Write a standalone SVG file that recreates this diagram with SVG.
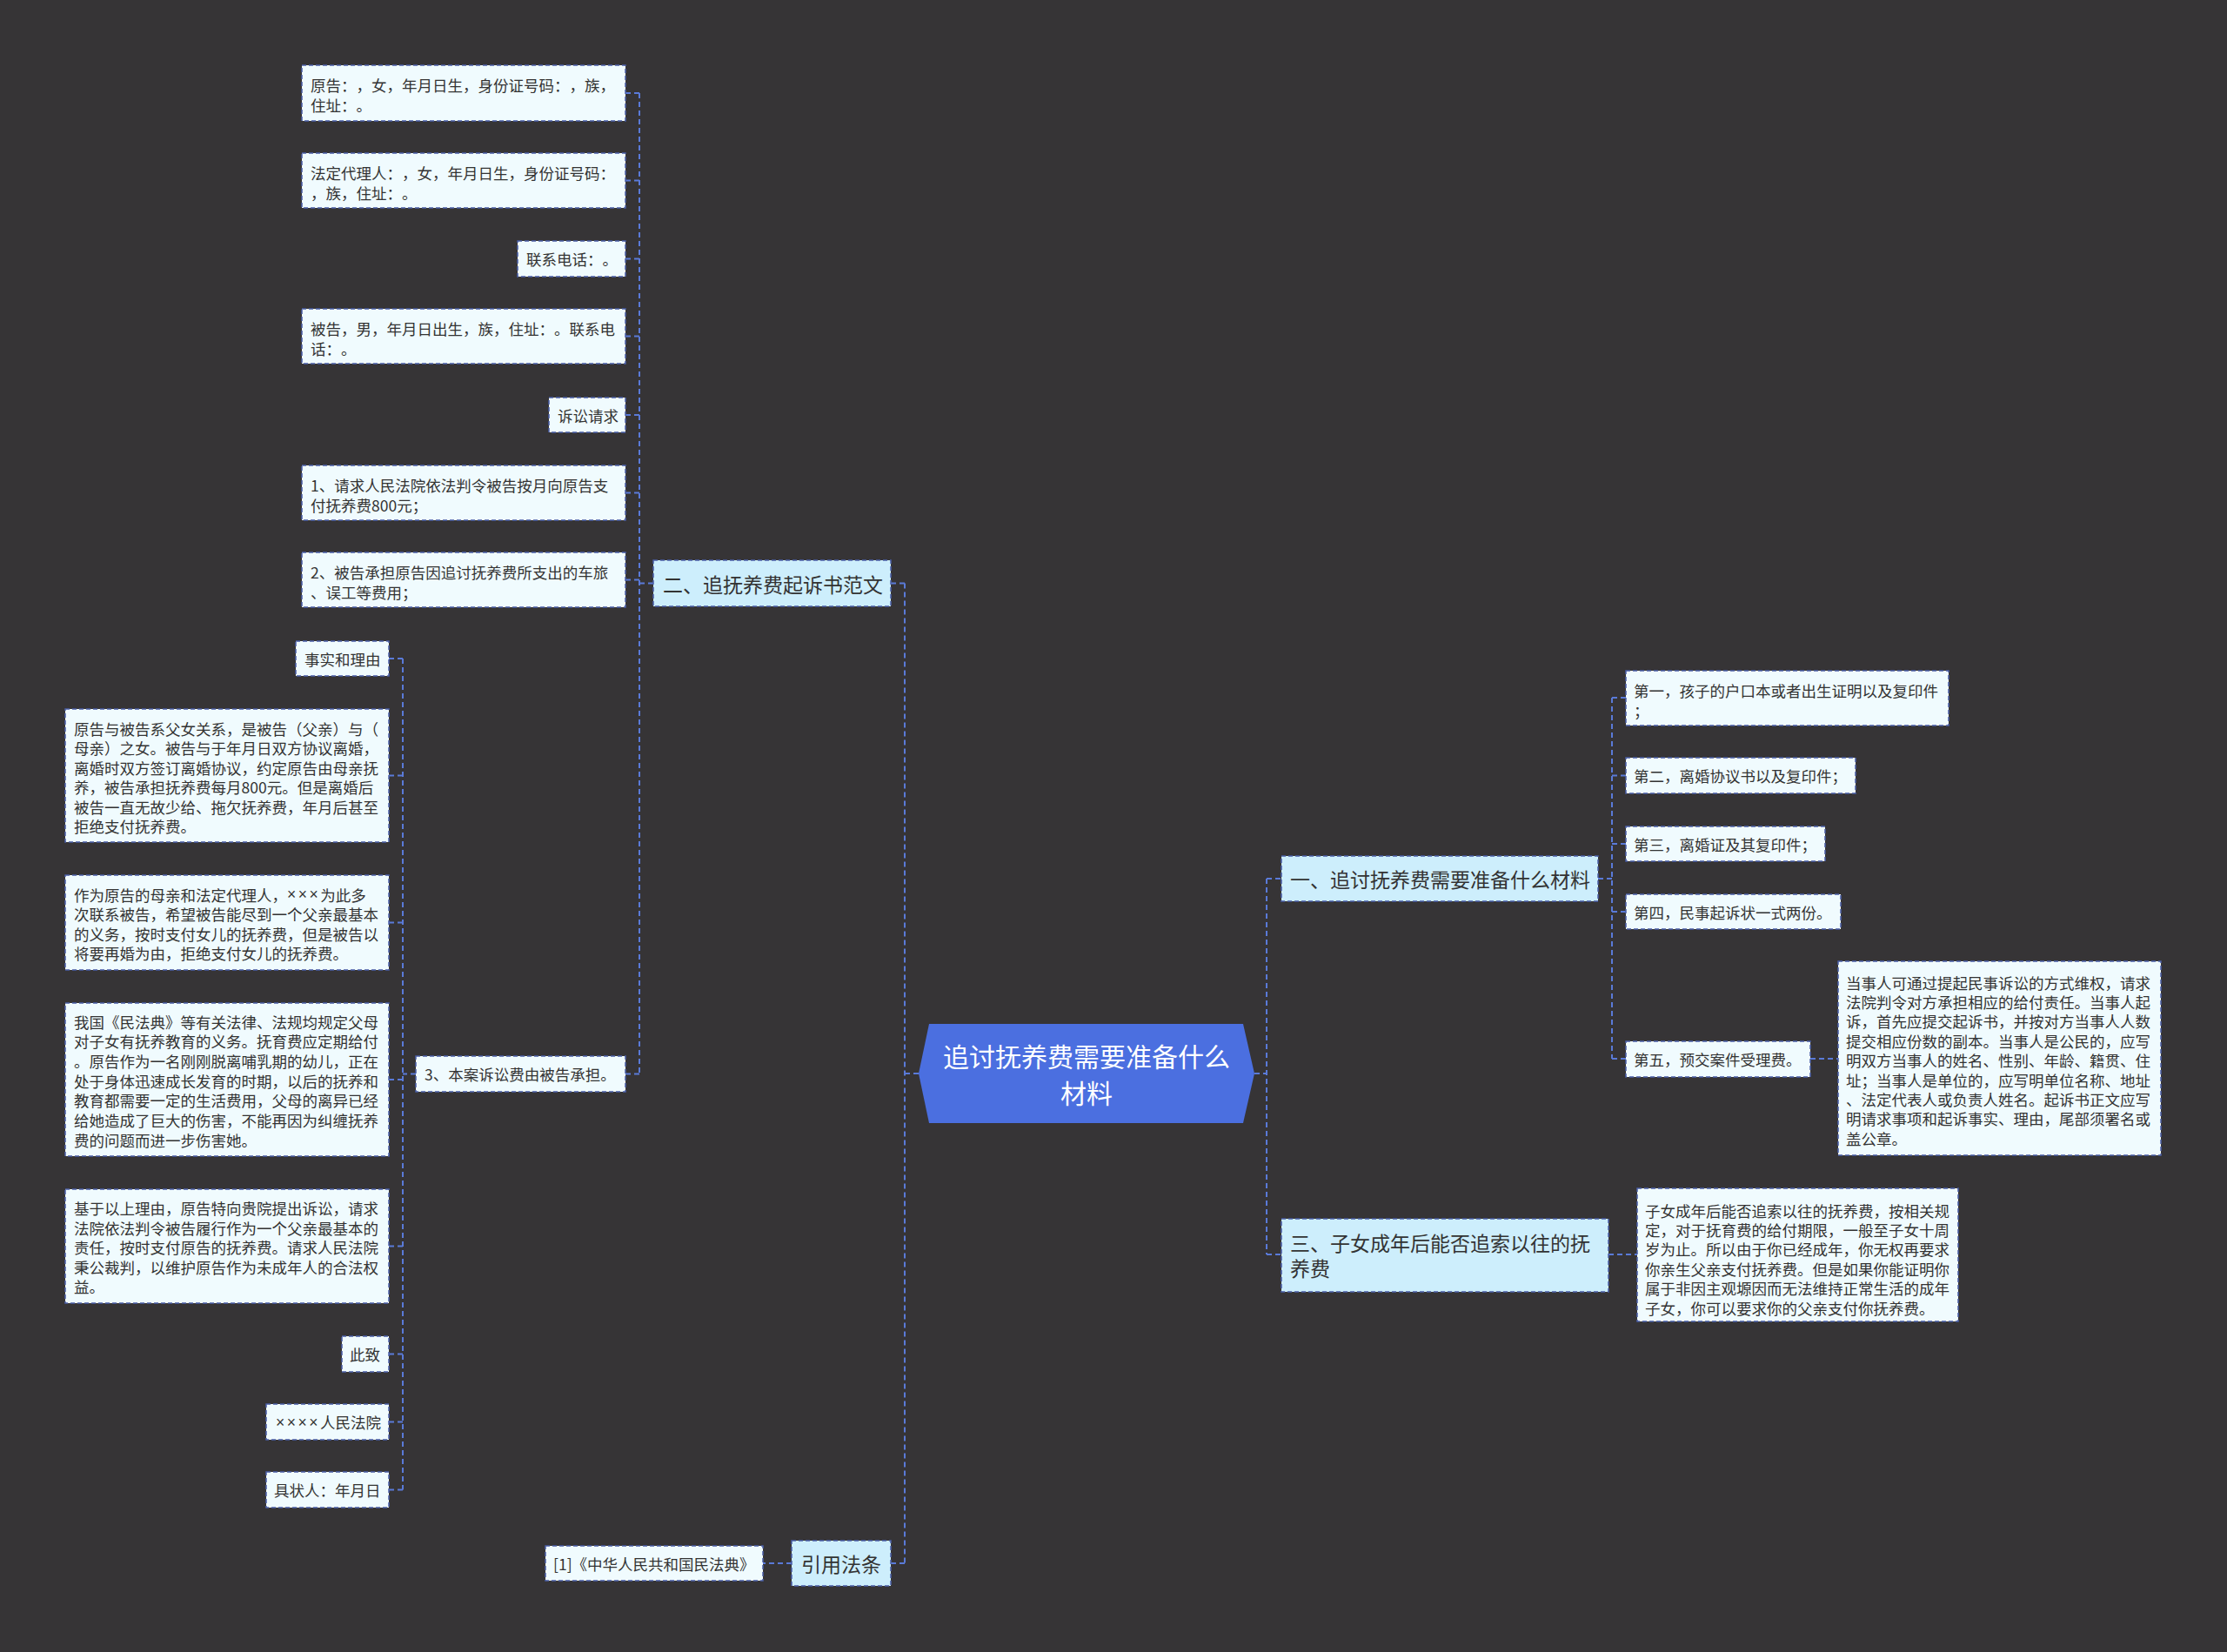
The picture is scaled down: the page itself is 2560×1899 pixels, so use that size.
<svg xmlns="http://www.w3.org/2000/svg" width="2560" height="1899" viewBox="0 0 2560 1899">
<style>
.bg{fill:#363436}
.leaf{fill:#f0fbfe;stroke:#4a5ea6;stroke-width:1.5;stroke-dasharray:5 3}
.l1{fill:#cdeefc;stroke:#4a5ea6;stroke-width:1.5;stroke-dasharray:5 3}
.root{fill:#4b6fe0}
.conn{stroke:#5a7ad8;stroke-width:2;stroke-dasharray:6 4;fill:none}
text{font-family:"Noto Sans CJK SC","Noto Sans",sans-serif;dominant-baseline:central;fill:#333;text-spacing-trim:space-all}
.t18{font-size:17.5px}
.t23{font-size:23px}
.t30{font-size:30px;fill:#fff}
.x{font-family:"Liberation Sans",sans-serif;letter-spacing:2.5px}
</style>
<rect class="bg" x="0" y="0" width="2560" height="1899"/>
<g id="connectors">
<path class="conn" d="M1442 1234H1456M1456 1010V1442M1456 1010H1473M1456 1442H1473"/>
<path class="conn" d="M1837 1010H1853M1853 802V1217M1853 802H1869M1853 891.5H1869M1853 970H1869M1853 1048H1869M1853 1217H1869"/>
<path class="conn" d="M2081 1217H2113"/>
<path class="conn" d="M1849 1442H1882"/>
<path class="conn" d="M1056 1234H1040M1040 670.5V1797M1040 670.5H1024M1040 1797H1024"/>
<path class="conn" d="M751 670.5H735M735 107V1234.5M735 107H719M735 207.5H719M735 297.5H719M735 386.5H719M735 477H719M735 566.5H719M735 666.5H719M735 1234.5H719"/>
<path class="conn" d="M478 1234.5H463M463 757V1712.5M463 757H447M463 891.5H447M463 1060.5H447M463 1241H447M463 1432.5H447M463 1556.5H447M463 1634.5H447M463 1712.5H447"/>
<path class="conn" d="M910 1797H877"/>
</g>
<g id="root">
<polygon class="root" points="1068,1177 1429,1177 1442,1234 1429,1291 1068,1291 1056,1234"/>
<text class="t30" x="1249" y="1213" text-anchor="middle">追讨抚养费需要准备什么</text>
<text class="t30" x="1249" y="1255" text-anchor="middle">材料</text>
</g>
<g id="n-er">
<rect class="l1" x="751" y="644" width="273" height="53"/>
<text class="t23" x="762" y="670.5">二、追抚养费起诉书范文</text>
</g>
<g id="n-yinyong">
<rect class="l1" x="910" y="1771" width="114" height="52"/>
<text class="t23" x="921" y="1797">引用法条</text>
</g>
<g id="n-yi">
<rect class="l1" x="1473" y="984" width="364" height="52"/>
<text class="t23" x="1483" y="1010">一、追讨抚养费需要准备什么材料</text>
</g>
<g id="n-san">
<rect class="l1" x="1473" y="1401" width="376" height="84"/>
<text class="t23" x="1483" y="1428">三、子女成年后能否追索以往的抚</text>
<text class="t23" x="1483" y="1457">养费</text>
</g>
<g id="n-yuangao">
<rect class="leaf" x="347" y="75" width="372" height="64"/>
<text class="t18" x="357" y="97">原告：，女，年月日生，身份证号码：，族，</text>
<text class="t18" x="357" y="120">住址：。</text>
</g>
<g id="n-fading">
<rect class="leaf" x="347" y="176" width="372" height="63"/>
<text class="t18" x="357" y="198">法定代理人：，女，年月日生，身份证号码：</text>
<text class="t18" x="357" y="221">，族，住址：。</text>
</g>
<g id="n-lianxi">
<rect class="leaf" x="595" y="277" width="124" height="41"/>
<text class="t18" x="605" y="297.5">联系电话：。</text>
</g>
<g id="n-beigao">
<rect class="leaf" x="347" y="355" width="372" height="63"/>
<text class="t18" x="357" y="377">被告，男，年月日出生，族，住址：。联系电</text>
<text class="t18" x="357" y="400">话：。</text>
</g>
<g id="n-susong">
<rect class="leaf" x="631" y="457" width="88" height="40"/>
<text class="t18" x="641" y="477">诉讼请求</text>
</g>
<g id="n-q1">
<rect class="leaf" x="347" y="535" width="372" height="63"/>
<text class="t18" x="357" y="557">1、请求人民法院依法判令被告按月向原告支</text>
<text class="t18" x="357" y="580">付抚养费800元；</text>
</g>
<g id="n-q2">
<rect class="leaf" x="347" y="635" width="372" height="63"/>
<text class="t18" x="357" y="657">2、被告承担原告因追讨抚养费所支出的车旅</text>
<text class="t18" x="357" y="680">、误工等费用；</text>
</g>
<g id="n-q3">
<rect class="leaf" x="478" y="1214" width="241" height="41"/>
<text class="t18" x="488" y="1234.5">3、本案诉讼费由被告承担。</text>
</g>
<g id="n-shishi">
<rect class="leaf" x="340" y="737" width="107" height="40"/>
<text class="t18" x="350" y="757">事实和理由</text>
</g>
<g id="n-p1">
<rect class="leaf" x="75" y="815" width="372" height="153"/>
<text class="t18" x="85" y="837">原告与被告系父女关系，是被告（父亲）与（</text>
<text class="t18" x="85" y="859.5">母亲）之女。被告与于年月日双方协议离婚，</text>
<text class="t18" x="85" y="882">离婚时双方签订离婚协议，约定原告由母亲抚</text>
<text class="t18" x="85" y="904.5">养，被告承担抚养费每月800元。但是离婚后</text>
<text class="t18" x="85" y="927">被告一直无故少给、拖欠抚养费，年月后甚至</text>
<text class="t18" x="85" y="949.5">拒绝支付抚养费。</text>
</g>
<g id="n-p2">
<rect class="leaf" x="75" y="1006" width="372" height="109"/>
<text class="t18" x="85" y="1028">作为原告的母亲和法定代理人，<tspan class="x">×××</tspan>为此多</text>
<text class="t18" x="85" y="1050.5">次联系被告，希望被告能尽到一个父亲最基本</text>
<text class="t18" x="85" y="1073">的义务，按时支付女儿的抚养费，但是被告以</text>
<text class="t18" x="85" y="1095.5">将要再婚为由，拒绝支付女儿的抚养费。</text>
</g>
<g id="n-p3">
<rect class="leaf" x="75" y="1153" width="372" height="176"/>
<text class="t18" x="85" y="1174">我国《民法典》等有关法律、法规均规定父母</text>
<text class="t18" x="85" y="1196.7">对子女有抚养教育的义务。抚育费应定期给付</text>
<text class="t18" x="85" y="1219.4">。原告作为一名刚刚脱离哺乳期的幼儿，正在</text>
<text class="t18" x="85" y="1242.1">处于身体迅速成长发育的时期，以后的抚养和</text>
<text class="t18" x="85" y="1264.8">教育都需要一定的生活费用，父母的离异已经</text>
<text class="t18" x="85" y="1287.5">给她造成了巨大的伤害，不能再因为纠缠抚养</text>
<text class="t18" x="85" y="1310.2">费的问题而进一步伤害她。</text>
</g>
<g id="n-p4">
<rect class="leaf" x="75" y="1367" width="372" height="131"/>
<text class="t18" x="85" y="1388.5">基于以上理由，原告特向贵院提出诉讼，请求</text>
<text class="t18" x="85" y="1411">法院依法判令被告履行作为一个父亲最基本的</text>
<text class="t18" x="85" y="1433.5">责任，按时支付原告的抚养费。请求人民法院</text>
<text class="t18" x="85" y="1456">秉公裁判，以维护原告作为未成年人的合法权</text>
<text class="t18" x="85" y="1478.5">益。</text>
</g>
<g id="n-cizhi">
<rect class="leaf" x="393" y="1536" width="54" height="41"/>
<text class="t18" x="402" y="1556.5">此致</text>
</g>
<g id="n-fayuan">
<rect class="leaf" x="306" y="1614" width="141" height="41"/>
<text class="t18" x="317" y="1634.5"><tspan class="x">××××</tspan>人民法院</text>
</g>
<g id="n-juzhuang">
<rect class="leaf" x="306" y="1692" width="141" height="41"/>
<text class="t18" x="315" y="1712.5">具状人：年月日</text>
</g>
<g id="n-minfadian">
<rect class="leaf" x="627" y="1777" width="250" height="40"/>
<text class="t18" x="636" y="1797">[1]《中华人民共和国民法典》</text>
</g>
<g id="n-d1">
<rect class="leaf" x="1869" y="771" width="371" height="63"/>
<text class="t18" x="1878" y="793">第一，孩子的户口本或者出生证明以及复印件</text>
<text class="t18" x="1878" y="816">；</text>
</g>
<g id="n-d2">
<rect class="leaf" x="1869" y="871" width="264" height="41"/>
<text class="t18" x="1878" y="891.5">第二，离婚协议书以及复印件；</text>
</g>
<g id="n-d3">
<rect class="leaf" x="1869" y="950" width="229" height="40"/>
<text class="t18" x="1878" y="970">第三，离婚证及其复印件；</text>
</g>
<g id="n-d4">
<rect class="leaf" x="1869" y="1028" width="247" height="40"/>
<text class="t18" x="1878" y="1048">第四，民事起诉状一式两份。</text>
</g>
<g id="n-d5">
<rect class="leaf" x="1869" y="1197" width="212" height="41"/>
<text class="t18" x="1878" y="1217.5">第五，预交案件受理费。</text>
</g>
<g id="n-d5p">
<rect class="leaf" x="2113" y="1105" width="371" height="223"/>
<text class="t18" x="2122" y="1129">当事人可通过提起民事诉讼的方式维权，请求</text>
<text class="t18" x="2122" y="1151.4">法院判令对方承担相应的给付责任。当事人起</text>
<text class="t18" x="2122" y="1173.8">诉，首先应提交起诉书，并按对方当事人人数</text>
<text class="t18" x="2122" y="1196.2">提交相应份数的副本。当事人是公民的，应写</text>
<text class="t18" x="2122" y="1218.6">明双方当事人的姓名、性别、年龄、籍贯、住</text>
<text class="t18" x="2122" y="1241">址；当事人是单位的，应写明单位名称、地址</text>
<text class="t18" x="2122" y="1263.4">、法定代表人或负责人姓名。起诉书正文应写</text>
<text class="t18" x="2122" y="1285.8">明请求事项和起诉事实、理由，尾部须署名或</text>
<text class="t18" x="2122" y="1308.2">盖公章。</text>
</g>
<g id="n-sanp">
<rect class="leaf" x="1882" y="1366" width="369" height="153"/>
<text class="t18" x="1891" y="1391">子女成年后能否追索以往的抚养费，按相关规</text>
<text class="t18" x="1891" y="1413.4">定，对于抚育费的给付期限，一般至子女十周</text>
<text class="t18" x="1891" y="1435.8">岁为止。所以由于你已经成年，你无权再要求</text>
<text class="t18" x="1891" y="1458.2">你亲生父亲支付抚养费。但是如果你能证明你</text>
<text class="t18" x="1891" y="1480.6">属于非因主观塬因而无法维持正常生活的成年</text>
<text class="t18" x="1891" y="1503">子女，你可以要求你的父亲支付你抚养费。</text>
</g>
</svg>
